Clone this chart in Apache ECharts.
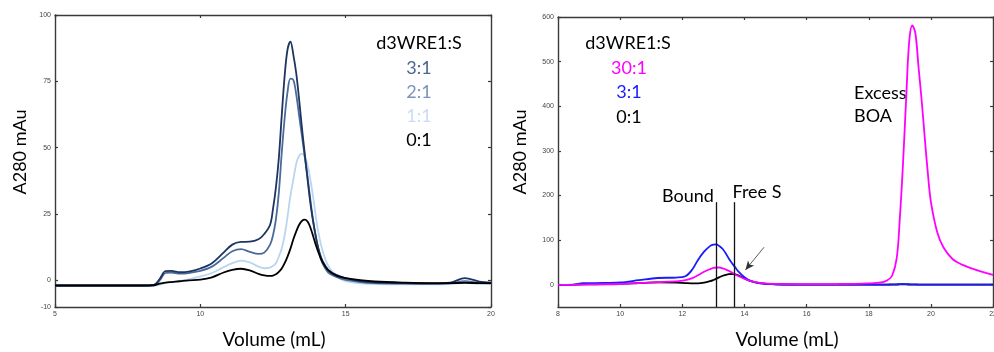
<!DOCTYPE html>
<html>
<head>
<meta charset="utf-8">
<script src="https://cdn.jsdelivr.net/npm/echarts@6/dist/echarts.min.js"></script>
<style>
  html, body { margin: 0; padding: 0; background: #fff; overflow: hidden; }
  #chart { width: 1000px; height: 352px; }
</style>
</head>
<body>
<div id="chart"></div>
<script>
// ---- left panel: d3WRE1 titration ----
const leftVolume = [5, 8, 8.4, 8.6, 8.8, 9.0, 9.3, 9.6, 10, 10.4, 10.8, 11.1, 11.4, 11.7, 12.0, 12.2, 12.4, 12.5, 12.6, 12.7,
  12.8, 12.9, 13.0, 13.1, 13.2, 13.3, 13.4, 13.5, 13.6, 13.7, 13.8, 13.9, 14.0, 14.1, 14.2, 14.4, 14.7, 15.0, 15.5, 16,
  17, 18, 18.6, 19.1, 19.6, 20];
const leftAbs3to1 = [-1.9, -1.9, -1.7, 0.5, 3.5, 3.6, 3.1, 3.3, 4.5, 6.5, 10.5, 13.5, 14.5, 14.6, 15.5, 17.5, 21, 27, 35, 46,
  62, 77, 87, 90, 85, 78, 68, 57, 47, 37, 28, 21, 15, 10.5, 7.5, 4, 2, 0.9, -0.2, -0.7,
  -1.0, -1.1, -0.8, 0.9, -0.4, -0.8];
const leftAbs2to1 = [-1.9, -1.9, -1.8, 0, 2.8, 3.0, 2.6, 2.8, 3.6, 5.2, 8.5, 11, 11.8, 10.8, 10, 10.5, 13.5, 17, 23, 33,
  48, 61, 71, 76, 75.5, 70, 62, 54, 46, 38, 29, 21, 15, 10, 6.5, 3, 1.2, 0.2, -0.6, -1.0,
  -1.2, -1.3, -1.1, -0.3, -0.9, -1.1];
const leftAbs1to1 = [-2.1, -2.1, -2.0, -1.6, -1.0, -0.6, -0.2, 0.4, 1.5, 2.8, 5, 6.5, 7.5, 6.8, 5.2, 4.6, 4.8, 5.5, 6.5, 9,
  12, 17, 24, 32, 38, 44, 47, 47.7, 46.5, 43, 37, 30, 22, 16, 11.5, 5.5, 1.5, -0.3, -1.1, -1.4,
  -1.5, -1.5, -1.4, -0.8, -1.3, -1.4];
const leftAbs0to1 = [-1.9, -1.9, -1.8, -1.2, -0.8, -0.6, -0.3, 0, 0.3, 1.2, 3, 4, 4.4, 3.8, 2.5, 1.9, 1.7, 1.8, 2.3, 3.2,
  4.5, 6.5, 9, 12, 15.5, 18.5, 21, 22.5, 22.9, 22, 19.5, 16, 12.5, 9.5, 7, 3.8, 1.7, 0.9, 0.1, -0.4,
  -0.8, -1.0, -1.0, -0.9, -1.0, -1.0];
const leftXTicks = [5, 10, 15, 20];
const leftYTicks = [-10, 0, 25, 50, 75, 100];
const leftRatios = ['3:1', '2:1', '1:1', '0:1'];

// ---- right panel: with excess BOA ----
const rightVolume = [8, 8.5, 8.8, 9.2, 10, 10.6, 11.2, 11.8, 12.1, 12.3, 12.5, 12.7, 12.9, 13.0, 13.1, 13.2, 13.3, 13.4, 13.5, 13.6,
  13.7, 13.8, 14.0, 14.2, 14.5, 15, 16, 17, 18, 18.4, 18.6, 18.75, 18.9, 19.0, 19.1, 19.2, 19.3, 19.4, 19.5, 19.6,
  19.7, 19.8, 19.9, 20.0, 20.2, 20.4, 20.7, 21.0, 21.5, 22];
const rightAbs30to1 = [-0.5, -0.2, 0.3, 0.8, 1.5, 3.5, 5.5, 7.5, 10, 14, 21, 29, 35, 37.5, 38.5, 38.5, 36.5, 34, 31, 27,
  23, 19.5, 13, 8, 4, 1.8, 1.2, 1.5, 3, 5, 10, 20, 60, 150, 270, 414, 545, 581, 563, 488,
  414, 330, 250, 185, 118, 84, 57, 45, 32, 22];
const rightAbs3to1 = [-0.5, 0, 3.5, 3.7, 5, 10, 15, 16, 19, 32, 55, 74, 87, 90, 90.5, 86, 80, 70, 58, 48,
  39, 30, 17, 8.5, 3, 1, 0, 0, 0, 0, 0.3, 0.6, 1, 1.3, 1.5, 1.3, 1, 0.7, 0.5, 0.3,
  0.2, 0.1, 0, 0, 0, 0, 0, 0, 0, 0];
const rightAbs0to1 = [-0.5, 0, 0.5, 1, 2, 3.5, 5, 4.5, 3.5, 3, 3, 4.5, 8, 10.5, 13.5, 17, 20, 22, 23.5, 24,
  23, 21, 14, 8, 3.5, 1, 0, 0, 0, 0, 0, 0, 0.3, 0.5, 0.6, 0.5, 0.3, 0, 0, 0,
  0, 0, 0, 0, 0, 0, 0, 0, 0, 0];
const rightYTicks = [0, 100, 200, 300, 400, 500, 600];
const rightRatios = ['30:1', '3:1', '0:1'];

// annotation positions in data units
const boundVolume = 13.09;
const freeVolume = 13.67;
const markerTop = 185;
const arrowStart = [14.63, 84];
const arrowEnd = [14.03, 33];

const leftColors = ['#1e3561', '#4b6a9c', '#bad5f0', '#000000'];
const leftTextColors = ['#4d6591', '#7b93bd', '#c9ddf4', '#000000'];
const rightColors = ['#ff00ff', '#1a1aff', '#000000'];

const FONT = 'Lato, "Open Sans", sans-serif';
const TICK_FONT = 'Liberation Sans, Arial, sans-serif';
const axisColor = '#3a3a3a';

const pairs = (xs, ys) => ys.map((v, i) => [xs[i], v]);

// one side of the boxed frame; only bottom/left carry labels
function frameAxis(gridIndex, position, min, max, opts) {
  const showLabel = position === 'bottom' || position === 'left';
  return Object.assign({
    gridIndex,
    type: 'value',
    position,
    min, max,
    axisLine: { show: true, onZero: false, lineStyle: { color: axisColor, width: 1.4 } },
    axisTick: { show: true, inside: true, length: 3, lineStyle: { color: axisColor, width: 1.2 } },
    axisLabel: { show: showLabel, color: '#444', fontSize: 7, fontFamily: TICK_FONT, margin: 4 },
    splitLine: { show: false }
  }, opts || {});
}

function customTicks(values, withLabels) {
  const o = {
    axisTick: { show: true, inside: true, length: 3, customValues: values, lineStyle: { color: axisColor, width: 1.2 } }
  };
  if (withLabels) {
    o.axisLabel = { show: true, customValues: values, color: '#444', fontSize: 7, fontFamily: TICK_FONT, margin: 4 };
  }
  return o;
}

const chart = echarts.init(document.getElementById('chart'), null, { renderer: 'canvas' });

const lineSeries = (name, xIdx, yIdx, data, color) => ({
  name,
  type: 'line',
  xAxisIndex: xIdx,
  yAxisIndex: yIdx,
  data,
  smooth: 0.35,
  showSymbol: false,
  symbol: 'none',
  lineStyle: { color, width: 1.8 },
  silent: true,
  animation: false
});

const series = [
  lineSeries('1:1', 0, 0, pairs(leftVolume, leftAbs1to1), leftColors[2]),
  lineSeries('2:1', 0, 0, pairs(leftVolume, leftAbs2to1), leftColors[1]),
  lineSeries('3:1', 0, 0, pairs(leftVolume, leftAbs3to1), leftColors[0]),
  lineSeries('0:1', 0, 0, pairs(leftVolume, leftAbs0to1), leftColors[3]),
  lineSeries('R 0:1', 2, 2, pairs(rightVolume, rightAbs0to1), rightColors[2]),
  lineSeries('R 3:1', 2, 2, pairs(rightVolume, rightAbs3to1), rightColors[1]),
  lineSeries('R 30:1', 2, 2, pairs(rightVolume, rightAbs30to1), rightColors[0])
];

// Bound / Free S markers and the arrow
series[4].markLine = {
  silent: true,
  animation: false,
  label: { show: false },
  symbol: ['none', 'none'],
  lineStyle: { color: '#111', width: 1.3, type: 'solid' },
  data: [
    [{ coord: [boundVolume, -50] }, { coord: [boundVolume, markerTop] }],
    [{ coord: [freeVolume, -50] }, { coord: [freeVolume, markerTop] }],
    [
      { coord: arrowStart, symbol: 'none', lineStyle: { width: 0.8, color: '#333' } },
      { coord: arrowEnd, symbol: 'arrow', symbolSize: [6, 9], lineStyle: { width: 0.8, color: '#333' } }
    ]
  ]
};

const textEl = (text, x, y, opts) => ({
  type: 'text',
  x, y,
  silent: true,
  style: Object.assign({
    text,
    fill: '#000',
    font: '18px ' + FONT,
    align: 'center',
    verticalAlign: 'middle'
  }, opts || {})
});

const graphic = [];
// axis titles
graphic.push(Object.assign(textEl('A280 mAu', 20, 152), { rotation: Math.PI / 2 }));
graphic.push(Object.assign(textEl('A280 mAu', 520, 152), { rotation: Math.PI / 2 }));
graphic.push(textEl('Volume (mL)', 274, 340, { font: '19px ' + FONT }));
graphic.push(textEl('Volume (mL)', 787, 340, { font: '19px ' + FONT }));
// left legend
graphic.push(textEl('d3WRE1:S', 419, 43));
leftRatios.forEach((r, i) => graphic.push(textEl(r, 419, 68 + i * 24.2, { fill: leftTextColors[i] })));
// right legend
graphic.push(textEl('d3WRE1:S', 628, 43));
rightRatios.forEach((r, i) => graphic.push(textEl(r, 629, 68 + i * 24.5, { fill: rightColors[i] })));
// annotations
graphic.push(textEl('Excess', 854, 93, { align: 'left' }));
graphic.push(textEl('BOA', 854, 116, { align: 'left' }));
graphic.push(textEl('Bound', 688, 196));
graphic.push(textEl('Free S', 757, 192));

const option = {
  animation: false,
  backgroundColor: '#fff',
  grid: [
    { left: 55, top: 15, width: 436, height: 292 },
    { left: 558, top: 17, width: 437, height: 290 }
  ],
  xAxis: [
    frameAxis(0, 'bottom', 5, 20, { interval: 5 }),
    frameAxis(0, 'top', 5, 20, { interval: 5 }),
    frameAxis(1, 'bottom', 8, 22, { interval: 2 }),
    frameAxis(1, 'top', 8, 22, { interval: 2 })
  ],
  yAxis: [
    frameAxis(0, 'left', -10, 100, customTicks(leftYTicks, true)),
    frameAxis(0, 'right', -10, 100, customTicks(leftYTicks, false)),
    frameAxis(1, 'left', -50, 600, customTicks(rightYTicks, true)),
    frameAxis(1, 'right', -50, 600, customTicks(rightYTicks, false))
  ],
  series,
  graphic
};

option.xAxis[0].axisLabel.customValues = leftXTicks;

chart.setOption(option);
</script>
</body>
</html>
